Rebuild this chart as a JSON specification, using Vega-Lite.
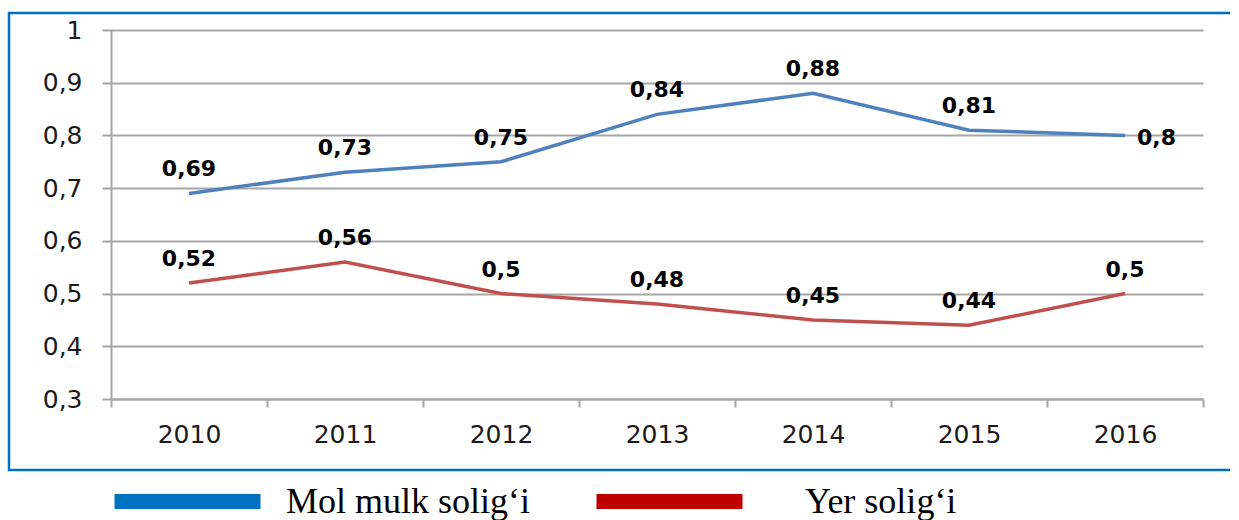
{
  "$schema": "https://vega.github.io/schema/vega-lite/v6.json",
  "autosize": {"type": "none"},
  "padding": {"left": 9, "top": 13, "right": 9, "bottom": 50},
  "width": 1221,
  "height": 457,
  "background": "white",
  "view": {"stroke": "#0070C0", "strokeWidth": 2.5, "strokeDash": [1221, 457, 1678], "strokeDashOffset": 0},
  "config": {
    "locale": {"number": {"decimal": ",", "thousands": " ", "grouping": [3], "currency": ["", ""]}}
  },
  "data": {
    "values": [
      {"year": "2010", "series": "Mol mulk solig‘i", "value": 0.69},
      {"year": "2011", "series": "Mol mulk solig‘i", "value": 0.73},
      {"year": "2012", "series": "Mol mulk solig‘i", "value": 0.75},
      {"year": "2013", "series": "Mol mulk solig‘i", "value": 0.84},
      {"year": "2014", "series": "Mol mulk solig‘i", "value": 0.88},
      {"year": "2015", "series": "Mol mulk solig‘i", "value": 0.81},
      {"year": "2016", "series": "Mol mulk solig‘i", "value": 0.8},
      {"year": "2010", "series": "Yer solig‘i", "value": 0.52},
      {"year": "2011", "series": "Yer solig‘i", "value": 0.56},
      {"year": "2012", "series": "Yer solig‘i", "value": 0.5},
      {"year": "2013", "series": "Yer solig‘i", "value": 0.48},
      {"year": "2014", "series": "Yer solig‘i", "value": 0.45},
      {"year": "2015", "series": "Yer solig‘i", "value": 0.44},
      {"year": "2016", "series": "Yer solig‘i", "value": 0.5}
    ]
  },
  "encoding": {
    "x": {
      "field": "year", "type": "ordinal", "bandPosition": 0.5,
      "scale": {"type": "band", "range": [102, 1194], "paddingInner": 0, "paddingOuter": 0},
      "axis": {
        "title": null, "orient": "bottom", "offset": -71,
        "domainColor": "#A6A6A6", "domainWidth": 2,
        "tickBand": "extent", "tickColor": "#A6A6A6", "tickWidth": 2, "tickSize": 8,
        "labelFont": "DejaVu Sans", "labelFontSize": 25, "labelColor": "#1a1a1a",
        "labelPadding": 15, "labelAngle": 0, "grid": false
      }
    },
    "y": {
      "field": "value", "type": "quantitative",
      "scale": {"domain": [0.3, 1], "range": [386, 17], "nice": false, "zero": false},
      "axis": {
        "title": null, "orient": "left", "offset": -102,
        "values": [0.3, 0.4, 0.5, 0.6, 0.7, 0.8, 0.9, 1],
        "format": ".1~f",
        "domainColor": "#A6A6A6", "domainWidth": 2,
        "grid": true, "gridColor": "#A6A6A6", "gridWidth": 2,
        "tickColor": "#A6A6A6", "tickWidth": 2, "tickSize": 9,
        "labelFont": "DejaVu Sans", "labelFontSize": 25, "labelColor": "#1a1a1a",
        "labelPadding": 20
      }
    }
  },
  "layer": [
    {
      "mark": {"type": "line", "strokeWidth": 3.5, "clip": false},
      "encoding": {
        "color": {
          "field": "series", "type": "nominal",
          "scale": {"domain": ["Mol mulk solig‘i", "Yer solig‘i"], "range": ["#4F81BD", "#C0504D"]},
          "legend": null
        }
      }
    },
    {
      "transform": [{"filter": "datum.series === 'Mol mulk solig‘i'"}],
      "mark": {"type": "line", "opacity": 0},
      "encoding": {
        "stroke": {
          "field": "series", "type": "nominal",
          "scale": {"range": ["#0070C0"]},
          "legend": {
            "title": null, "orient": "none", "legendX": 98, "legendY": 408,
            "symbolType": "stroke", "symbolSize": 21316, "symbolStrokeWidth": 15,
            "symbolStrokeColor": "#0070C0", "symbolOpacity": 1,
            "labelFont": "Liberation Serif", "labelFontSize": 36, "labelColor": "black",
            "labelOffset": 18, "padding": 0, "labelLimit": 0
          }
        }
      }
    },
    {
      "transform": [{"filter": "datum.series === 'Yer solig‘i'"}],
      "mark": {"type": "point", "opacity": 0, "filled": true},
      "encoding": {
        "fill": {
          "field": "series", "type": "nominal",
          "scale": {"range": ["#C00000"]},
          "legend": {
            "title": null, "orient": "none", "legendX": 580, "legendY": 408,
            "symbolType": "stroke", "symbolSize": 21316, "symbolStrokeWidth": 15,
            "symbolStrokeColor": "#C00000", "symbolOpacity": 1,
            "labelFont": "Liberation Serif", "labelFontSize": 36, "labelColor": "black",
            "labelOffset": 55, "padding": 0, "labelLimit": 0
          }
        }
      }
    },
    {
      "transform": [{"filter": "!(datum.series === 'Mol mulk solig‘i' && datum.year === '2016')"}],
      "mark": {"type": "text", "font": "DejaVu Sans", "fontWeight": "bold", "fontSize": 22, "dy": -24, "color": "black"},
      "encoding": {"text": {"field": "value", "type": "quantitative", "format": ".2~f"}}
    },
    {
      "transform": [{"filter": "datum.series === 'Mol mulk solig‘i' && datum.year === '2016'"}],
      "mark": {"type": "text", "font": "DejaVu Sans", "fontWeight": "bold", "fontSize": 22, "dx": 12, "dy": 3, "align": "left", "color": "black"},
      "encoding": {"text": {"field": "value", "type": "quantitative", "format": ".2~f"}}
    }
  ],
  "resolve": {"scale": {"stroke": "independent", "fill": "independent"}}
}
